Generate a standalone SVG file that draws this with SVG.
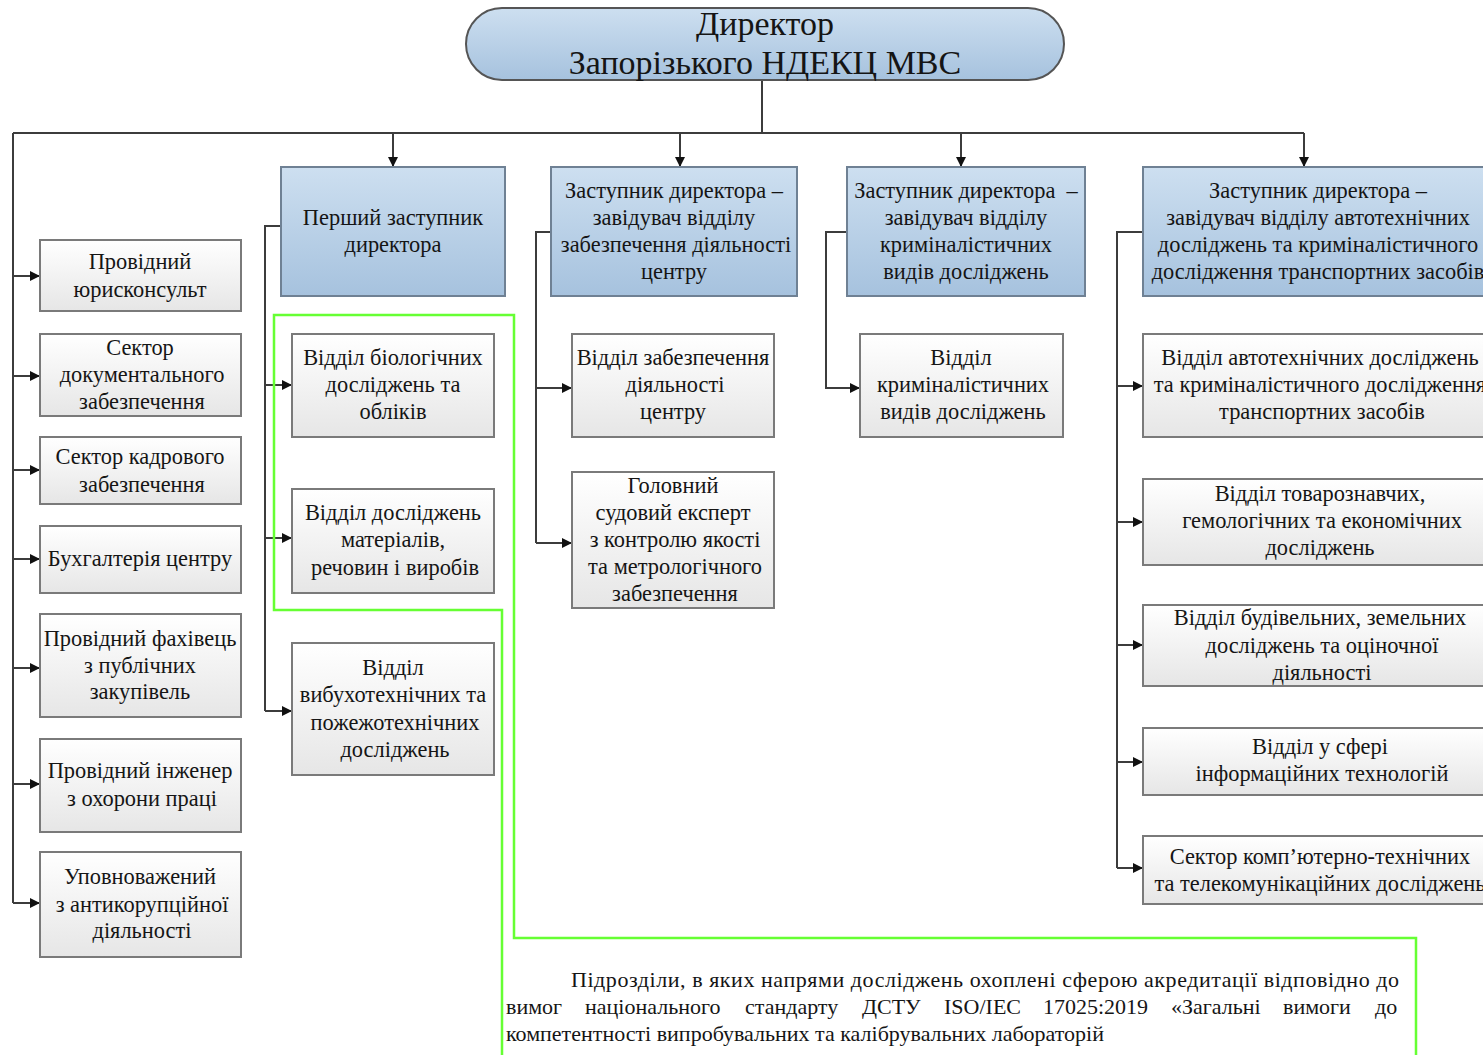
<svg xmlns="http://www.w3.org/2000/svg" width="1483" height="1055" viewBox="0 0 1483 1055">
<defs>
<linearGradient id="gBlue" x1="0" y1="0" x2="0" y2="1"><stop offset="0" stop-color="#cddff0"/><stop offset="1" stop-color="#a6c2de"/></linearGradient>
<linearGradient id="gGray" x1="0" y1="0" x2="0" y2="1"><stop offset="0" stop-color="#ffffff"/><stop offset="1" stop-color="#e6e6e6"/></linearGradient>
<marker id="arr" markerUnits="userSpaceOnUse" markerWidth="10" markerHeight="10" refX="10" refY="5" orient="auto"><path d="M0,0 L10,5 L0,10 z" fill="#111"/></marker>
<style>
.blue{fill:url(#gBlue);stroke:#6f8194;stroke-width:2}
.gray{fill:url(#gGray);stroke:#7a7a7a;stroke-width:2}
.t{font-family:"Liberation Serif","Times New Roman",serif;font-size:22.4px;fill:#151515;text-anchor:middle}
.big{font-size:34px}
.note{font-family:"Liberation Serif","Times New Roman",serif;font-size:22px;fill:#151515}
.cn{fill:none;stroke:#3c3c3c;stroke-width:2}
.ar{marker-end:url(#arr)}
</style>
</defs>
<rect width="1483" height="1055" fill="#ffffff"/>

<g id="connectors">
<path class="cn" d="M762,80 V133 M13,133 H1304 M13,133 V903"/>
<path class="cn ar" d="M13,276 H40"/>
<path class="cn ar" d="M13,376 H40"/>
<path class="cn ar" d="M13,470 H40"/>
<path class="cn ar" d="M13,559 H40"/>
<path class="cn ar" d="M13,668 H40"/>
<path class="cn ar" d="M13,784 H40"/>
<path class="cn ar" d="M13,903 H40"/>
<path class="cn ar" d="M393,133 V167"/>
<path class="cn ar" d="M680,133 V167"/>
<path class="cn ar" d="M961,133 V167"/>
<path class="cn ar" d="M1304,133 V167"/>
<path class="cn" d="M281,226 H265 V711"/>
<path class="cn ar" d="M265,385 H292"/>
<path class="cn ar" d="M265,538 H292"/>
<path class="cn ar" d="M265,711 H292"/>
<path class="cn" d="M551,232 H536 V543"/>
<path class="cn ar" d="M536,388 H572"/>
<path class="cn ar" d="M536,543 H572"/>
<path class="cn ar" d="M847,232 H826 V388 H860"/>
<path class="cn" d="M1143,232 H1117 V868"/>
<path class="cn ar" d="M1117,386 H1143"/>
<path class="cn ar" d="M1117,522 H1143"/>
<path class="cn ar" d="M1117,645 H1143"/>
<path class="cn ar" d="M1117,762 H1143"/>
<path class="cn ar" d="M1117,868 H1143"/>
</g>

<g id="director">
<rect x="466" y="8" width="598" height="72" rx="36" fill="url(#gBlue)" stroke="#555" stroke-width="2"/>
<text class="t big" x="765" y="35">Директор</text>
<text class="t big" x="765" y="74">Запорізького НДЕКЦ МВС</text>
</g>

<g id="n-jur"><rect class="gray" x="40" y="240" width="201" height="71"/>
<text class="t" x="140" y="269">Провідний</text><text class="t" x="140" y="297">юрисконсульт</text></g>
<g id="n-doc"><rect class="gray" x="40" y="334" width="201" height="82"/>
<text class="t" x="140" y="355">Сектор</text><text class="t" x="142" y="382">документального</text><text class="t" x="142" y="409">забезпечення</text></g>
<g id="n-kadr"><rect class="gray" x="40" y="437" width="201" height="67"/>
<text class="t" x="140" y="464">Сектор кадрового</text><text class="t" x="142" y="492">забезпечення</text></g>
<g id="n-buh"><rect class="gray" x="40" y="526" width="201" height="67"/>
<text class="t" x="140" y="566">Бухгалтерія центру</text></g>
<g id="n-zak"><rect class="gray" x="40" y="614" width="201" height="103"/>
<text class="t" x="140" y="646">Провідний фахівець</text><text class="t" x="140" y="673">з публічних</text><text class="t" x="140" y="699">закупівель</text></g>
<g id="n-ohor"><rect class="gray" x="40" y="739" width="201" height="93"/>
<text class="t" x="140" y="778">Провідний інженер</text><text class="t" x="142" y="806">з охорони праці</text></g>
<g id="n-antik"><rect class="gray" x="40" y="852" width="201" height="105"/>
<text class="t" x="140" y="884">Уповноважений</text><text class="t" x="142" y="912">з антикорупційної</text><text class="t" x="142" y="938">діяльності</text></g>

<g id="n-first"><rect class="blue" x="281" y="167" width="224" height="129"/>
<text class="t" x="393" y="225">Перший заступник</text><text class="t" x="393" y="252">директора</text></g>
<g id="n-dep1"><rect class="blue" x="551" y="167" width="246" height="129"/>
<text class="t" x="674" y="198">Заступник директора –</text><text class="t" x="674" y="225">завідувач відділу</text><text class="t" x="676" y="252">забезпечення діяльності</text><text class="t" x="674" y="279">центру</text></g>
<g id="n-dep2"><rect class="blue" x="847" y="167" width="238" height="129"/>
<text class="t" x="966" y="198" xml:space="preserve">Заступник директора  –</text><text class="t" x="966" y="225">завідувач відділу</text><text class="t" x="966" y="252">криміналістичних</text><text class="t" x="966" y="279">видів досліджень</text></g>
<g id="n-dep3"><rect class="blue" x="1143" y="167" width="352" height="129"/>
<text class="t" x="1318" y="198">Заступник директора –</text><text class="t" x="1318" y="225">завідувач відділу автотехнічних</text><text class="t" x="1318" y="252">досліджень та криміналістичного</text><text class="t" x="1318" y="279">дослідження транспортних засобів</text></g>

<g id="n-bio"><rect class="gray" x="292" y="334" width="202" height="103"/>
<text class="t" x="393" y="365">Відділ біологічних</text><text class="t" x="393" y="392">досліджень та</text><text class="t" x="393" y="419">обліків</text></g>
<g id="n-mat"><rect class="gray" x="292" y="489" width="202" height="104"/>
<text class="t" x="393" y="520">Відділ досліджень</text><text class="t" x="393" y="547">матеріалів,</text><text class="t" x="395" y="575">речовин і виробів</text></g>
<g id="n-vybuh"><rect class="gray" x="292" y="643" width="202" height="132"/>
<text class="t" x="393" y="675">Відділ</text><text class="t" x="393" y="702">вибухотехнічних та</text><text class="t" x="395" y="730">пожежотехнічних</text><text class="t" x="395" y="757">досліджень</text></g>

<g id="n-zab"><rect class="gray" x="572" y="334" width="202" height="103"/>
<text class="t" x="673" y="365">Відділ забезпечення</text><text class="t" x="675" y="392">діяльності</text><text class="t" x="673" y="419">центру</text></g>
<g id="n-golov"><rect class="gray" x="572" y="472" width="202" height="136"/>
<text class="t" x="673" y="493">Головний</text><text class="t" x="673" y="520">судовий експерт</text><text class="t" x="675" y="547">з контролю якості</text><text class="t" x="675" y="574">та метрологічного</text><text class="t" x="675" y="601">забезпечення</text></g>

<g id="n-krim"><rect class="gray" x="860" y="334" width="203" height="103"/>
<text class="t" x="961" y="365">Відділ</text><text class="t" x="963" y="392">криміналістичних</text><text class="t" x="963" y="419">видів досліджень</text></g>

<g id="n-avto"><rect class="gray" x="1143" y="334" width="352" height="103"/>
<text class="t" x="1320" y="365">Відділ автотехнічних досліджень</text><text class="t" x="1320" y="392">та криміналістичного дослідження</text><text class="t" x="1322" y="419">транспортних засобів</text></g>
<g id="n-tov"><rect class="gray" x="1143" y="479" width="352" height="86"/>
<text class="t" x="1320" y="501">Відділ товарознавчих,</text><text class="t" x="1322" y="528">гемологічних та економічних</text><text class="t" x="1320" y="555">досліджень</text></g>
<g id="n-bud"><rect class="gray" x="1143" y="605" width="352" height="81"/>
<text class="t" x="1320" y="625">Відділ будівельних, земельних</text><text class="t" x="1322" y="653">досліджень та оціночної</text><text class="t" x="1322" y="680">діяльності</text></g>
<g id="n-it"><rect class="gray" x="1143" y="728" width="352" height="67"/>
<text class="t" x="1320" y="754">Відділ у сфері</text><text class="t" x="1322" y="781">інформаційних технологій</text></g>
<g id="n-komp"><rect class="gray" x="1143" y="836" width="352" height="68"/>
<text class="t" x="1320" y="864">Сектор комп’ютерно-технічних</text><text class="t" x="1320" y="891">та телекомунікаційних досліджень</text></g>

<g id="accreditation">
<polyline points="502,1060 502,610 274,610 274,315 514,315 514,938 1416,938 1416,1060" fill="none" stroke="#66ff33" stroke-width="2.5"/>
<text class="note" x="571" y="987" textLength="828" lengthAdjust="spacing">Підрозділи, в яких напрями досліджень охоплені сферою акредитації відповідно до</text>
<text class="note" y="1014"><tspan x="506">вимог</tspan><tspan x="585">національного</tspan><tspan x="745">стандарту</tspan><tspan x="862">ДСТУ</tspan><tspan x="944">ISO/IEC</tspan><tspan x="1043">17025:2019</tspan><tspan x="1171">«Загальні</tspan><tspan x="1283">вимоги</tspan><tspan x="1375">до</tspan></text>
<text class="note" x="506" y="1041">компетентності випробувальних та калібрувальних лабораторій</text>
</g>
</svg>
